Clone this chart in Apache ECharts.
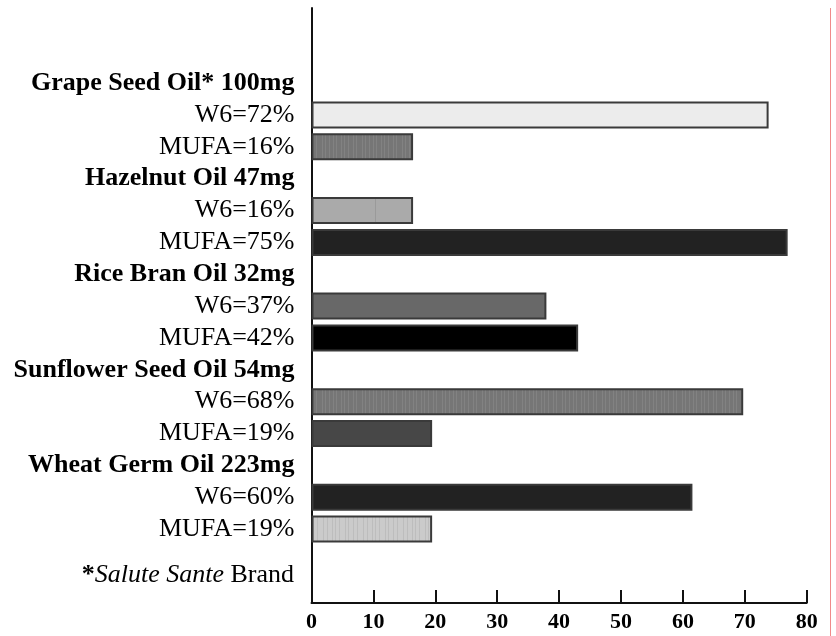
<!DOCTYPE html>
<html>
<head>
<meta charset="utf-8">
<script src="https://cdn.jsdelivr.net/npm/echarts@6/dist/echarts.min.js"></script>
<style>
  html, body { margin: 0; padding: 0; background: #fff; }
  #chart { width: 836px; height: 636px; }
</style>
</head>
<body>
<div id="chart"></div>
<script>
// oils and their fatty-acid percentages
var oils = ['Grape Seed Oil* 100mg', 'Hazelnut Oil 47mg', 'Rice Bran Oil 32mg', 'Sunflower Seed Oil 54mg', 'Wheat Germ Oil 223mg'];
var w6 = [72, 16, 37, 68, 60];
var mufa = [16, 75, 42, 19, 19];
var xTicks = [0, 10, 20, 30, 40, 50, 60, 70, 80];

// fill for each bar, W6 then MUFA per oil
var w6Fill = ['#ececec', 'hazel', '#686868', 'stripeMid', '#222222'];
var mufaFill = ['stripeMid', '#222222', '#000000', '#474747', 'stripeLight'];

var FONT = '"Liberation Serif", "Times New Roman", serif';

function stripes(bg, line, xs, w) {
  var c = document.createElement('canvas');
  c.width = w; c.height = 8;
  var g = c.getContext('2d');
  g.fillStyle = bg; g.fillRect(0, 0, w, 8);
  g.fillStyle = line;
  xs.forEach(function (x) { g.fillRect(x, 0, 1, 8); });
  return { image: c, repeat: 'repeat' };
}
var fills = {
  stripeMid: stripes('#767676', '#828282', [2, 5, 9, 13, 16, 21, 24, 28, 33, 36], 40),
  stripeLight: stripes('#cbcbcb', '#bdbdbd', [3, 7, 12, 15, 19, 25, 28, 33, 37], 40),
  hazel: stripes('#aaaaaa', '#9a9a9a', [12, 75], 100)
};
function fill(f) { return fills[f] || f; }

var categories = [], barData = [], headerIdx = {};
oils.forEach(function (name, i) {
  headerIdx[categories.length] = true;
  categories.push(name);
  barData.push('-');
  categories.push('W6=' + w6[i] + '%');
  barData.push({ value: w6[i], itemStyle: { color: fill(w6Fill[i]) } });
  categories.push('MUFA=' + mufa[i] + '%');
  barData.push({ value: mufa[i], itemStyle: { color: fill(mufaFill[i]) } });
});

var chart = echarts.init(document.getElementById('chart'));
var option = {
  animation: false,
  backgroundColor: '#ffffff',
  grid: [
    { left: 311.5, right: 29.3, top: 8, bottom: 33 },
    { left: 311.5, right: 29.3, top: 67.2, bottom: 91 }
  ],
  xAxis: [
    {
      gridIndex: 0, type: 'value', min: 0, max: 80, interval: 10,
      axisLine: { show: true, lineStyle: { color: '#111', width: 2 } },
      axisTick: { show: true, inside: true, length: 13, lineStyle: { color: '#111', width: 2 } },
      splitLine: { show: false },
      axisLabel: {
        margin: 8, color: '#000', fontFamily: FONT, fontWeight: 'bold', fontSize: 22,
        formatter: function (v) { return xTicks.indexOf(v) >= 0 ? String(v) : ''; }
      }
    },
    {
      gridIndex: 1, type: 'value', min: 0, max: 78,
      show: false
    }
  ],
  yAxis: [
    {
      gridIndex: 0, type: 'value', min: 0, max: 1,
      axisLine: { show: true, lineStyle: { color: '#111', width: 2 } },
      axisTick: { show: false }, axisLabel: { show: false }, splitLine: { show: false }
    },
    {
      gridIndex: 1, type: 'category', inverse: true, data: categories,
      axisLine: { show: false }, axisTick: { show: false },
      axisLabel: {
        interval: 0, hideOverlap: false,
        margin: 17, color: '#000', fontFamily: FONT, fontSize: 26,
        formatter: function (v, i) { return headerIdx[i] ? '{h|' + v + '}' : '{n|' + v + '}'; },
        rich: {
          h: { fontFamily: FONT, fontSize: 26, fontWeight: 'bold', color: '#000' },
          n: { fontFamily: FONT, fontSize: 26, color: '#000' }
        }
      }
    }
  ],
  series: [{
    type: 'bar',
    xAxisIndex: 1, yAxisIndex: 1,
    barWidth: 27,
    itemStyle: { borderColor: '#3a3a3a', borderWidth: 2 },
    data: barData
  }],
  graphic: [
    {
      type: 'text', right: 836 - 294, top: 562,
      style: {
        text: '{a|*}{i|Salute Sante}{n| Brand}',
        rich: {
          a: { fontFamily: FONT, fontSize: 26, fontWeight: 'bold', fill: '#000' },
          i: { fontFamily: FONT, fontSize: 26, fontStyle: 'italic', fill: '#000' },
          n: { fontFamily: FONT, fontSize: 26, fill: '#000' }
        }
      }
    },
    {
      type: 'line', shape: { x1: 830.5, y1: 8, x2: 830.5, y2: 636 },
      style: { stroke: '#f08a8a', lineWidth: 1 }
    }
  ]
};
chart.setOption(option);
</script>
</body>
</html>
